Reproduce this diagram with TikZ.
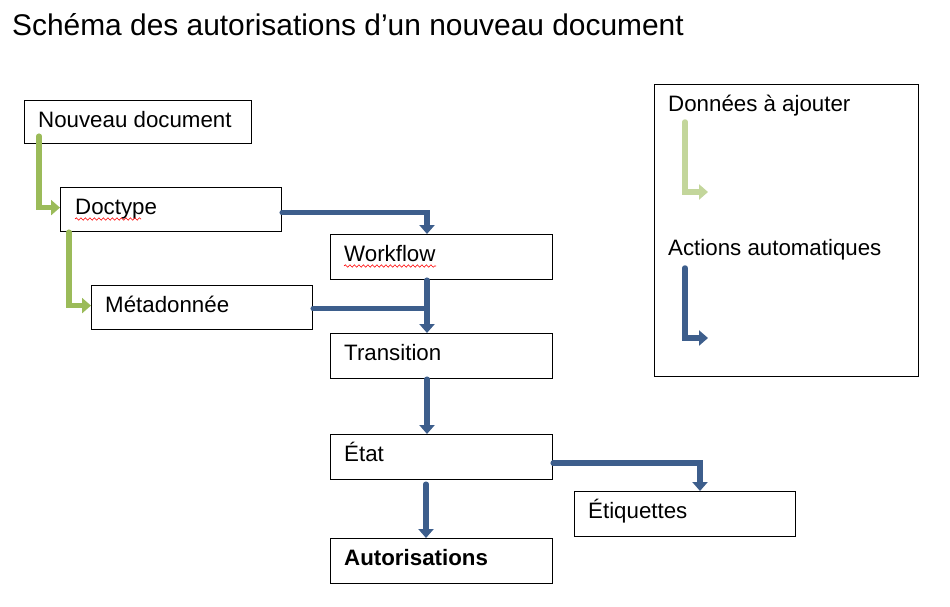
\documentclass[tikz,border=0pt]{standalone}
\usepackage{fontspec}
\setmainfont{Liberation Sans}
\usetikzlibrary{arrows.meta,decorations.pathmorphing,calc}
\definecolor{gArrow}{HTML}{9BBB59}
\definecolor{gLight}{HTML}{C3D69B}
\definecolor{bArrow}{RGB}{61,94,140}
\tikzset{
  boxnode/.style={draw=black, line width=1.2pt, anchor=north west, inner sep=0pt, fill=white},
  lbl/.style={anchor=base west, inner sep=0pt, font=\fontsize{22.3}{25}\selectfont},
  flowarrow/.style={line width=5.5pt, line join=miter, line cap=round,
    -{Triangle[width=15pt,length=9pt]}},
  greenarrow/.style={flowarrow, draw=gArrow, color=gArrow},
  lightarrow/.style={flowarrow, draw=gLight, color=gLight},
  bluearrow/.style={flowarrow, draw=bArrow, color=bArrow},
  bluebar/.style={line width=5.5pt, line cap=round, draw=bArrow},
  spellwave/.style={draw=red, line width=0.6pt, decorate,
    decoration={snake, amplitude=1.2pt, segment length=4.5pt}},
}
\begin{document}
\begin{tikzpicture}[x=1pt, y=-1pt]
\useasboundingbox (0,0) rectangle (950,606);
\fill[white] (0,0) rectangle (950,606);

% title
\node[anchor=base west, inner sep=0pt, font=\fontsize{29.9}{33}\selectfont] (title) at (12,35) {Schéma des autorisations d’un nouveau document};

% boxes
\node[boxnode, minimum width=227pt, minimum height=43pt] (nouveau) at (24,100) {};
\node[boxnode, minimum width=221pt, minimum height=44pt] (doctype) at (60,187) {};
\node[boxnode, minimum width=222pt, minimum height=45pt] (workflow) at (330,234) {};
\node[boxnode, minimum width=221pt, minimum height=44pt] (meta) at (91,285) {};
\node[boxnode, minimum width=222pt, minimum height=45pt] (transition) at (330,333) {};
\node[boxnode, minimum width=222pt, minimum height=45pt] (etat) at (330,434) {};
\node[boxnode, minimum width=221pt, minimum height=45pt] (etiq) at (574,491) {};
\node[boxnode, minimum width=222pt, minimum height=45pt] (autor) at (330,538) {};
\node[boxnode, minimum width=264pt, minimum height=292pt] (legend) at (654,84) {};

% labels
\node[lbl] (tNouveau) at (38,127) {Nouveau document};
\node[lbl] (tDoctype) at (75,214) {Doctype};
\node[lbl] (tWorkflow) at (344,261) {Workflow};
\node[lbl] (tMeta) at (105,312) {Métadonnée};
\node[lbl] (tTransition) at (344,360) {Transition};
\node[lbl] (tEtat) at (344,461) {État};
\node[lbl] (tEtiq) at (588,518) {Étiquettes};
\node[lbl, font=\fontsize{22.3}{25}\selectfont\bfseries] (tAutor) at (344,565) {Autorisations};
\node[lbl] (tDonnees) at (668,111) {Données à ajouter};
\node[lbl] (tActions) at (668,255) {Actions automatiques};

% spell-check underlines
\draw[spellwave] (75,219) -- (141,219);
\draw[spellwave] (344,266) -- (436,266);

% green connectors
\draw[greenarrow] ([xshift=15pt,yshift=8pt]nouveau.south west) |- ([yshift=2pt]doctype.west);
\draw[greenarrow] ([xshift=9pt]doctype.south west) |- ([yshift=2pt]meta.west);

% blue connectors
\coordinate (wfTop) at ([xshift=97pt]workflow.north west);
\coordinate (wfBot) at ([xshift=97pt]workflow.south west);
\coordinate (trTop) at ([xshift=97pt]transition.north west);
\coordinate (trBot) at ([xshift=97pt]transition.south west);
\coordinate (etTop) at ([xshift=97pt]etat.north west);
\coordinate (etBot) at ([xshift=96pt,yshift=-4pt]etat.south west);
\coordinate (auTop) at ([xshift=96pt]autor.north west);
\coordinate (eqTop) at ([xshift=126pt]etiq.north west);

\draw[bluearrow] ([yshift=-3pt]doctype.east) -| (wfTop);
\draw[bluebar] ([yshift=-1pt]meta.east) -- ([yshift=-1pt]meta.east -| wfBot);
\draw[bluearrow] (wfBot) -- (trTop);
\draw[bluearrow] (trBot) -- (etTop);
\draw[bluearrow] ([yshift=-6pt]etat.east) -| (eqTop);
\draw[bluearrow] (etBot) -- (auTop);

% legend arrows
\coordinate (lgA) at ([xshift=31pt,yshift=-38pt]legend.north west);
\coordinate (lgAend) at ([xshift=54pt,yshift=-108pt]legend.north west);
\coordinate (lgB) at ([xshift=31pt,yshift=-184pt]legend.north west);
\coordinate (lgBend) at ([xshift=54pt,yshift=-254pt]legend.north west);
\draw[lightarrow] (lgA) |- (lgAend);
\draw[bluearrow] (lgB) |- (lgBend);
\end{tikzpicture}
\end{document}
